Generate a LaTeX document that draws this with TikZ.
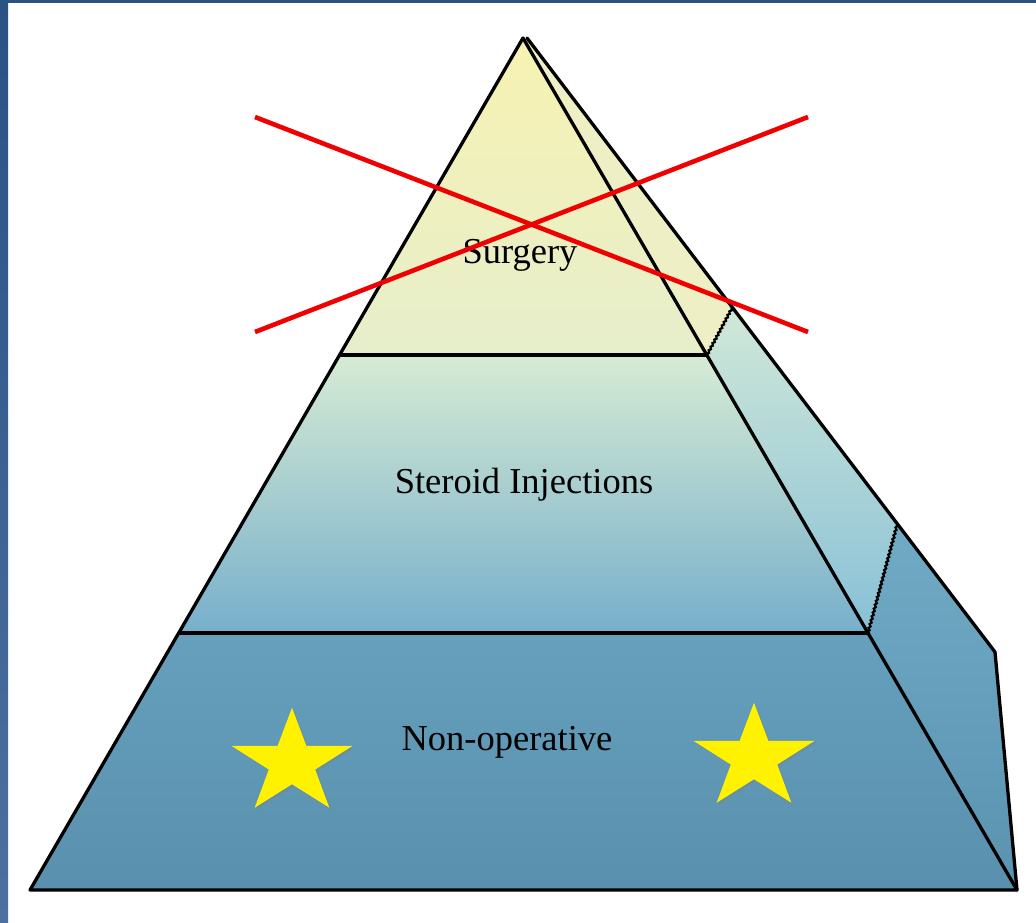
\documentclass[tikz,border=0pt]{standalone}
\usepackage{fontspec}
\setmainfont{Liberation Serif}
\usetikzlibrary{shapes.geometric,decorations.pathmorphing,shadows}

\definecolor{frameblue}{HTML}{2B5285}
\definecolor{framelow}{HTML}{4C70A1}
\definecolor{surgtop}{HTML}{F7F2B2}
\definecolor{surgbot}{HTML}{E6EECB}
\definecolor{sterotop}{HTML}{D6EBD4}
\definecolor{steromid}{HTML}{A0D3E8}
\definecolor{sterobot}{HTML}{77AFCB}
\definecolor{nonoptop}{HTML}{66A0BC}
\definecolor{nonopbot}{HTML}{5990AD}
\definecolor{sidetop}{HTML}{EEEFC4}
\definecolor{sidemidtop}{HTML}{D0E8D8}
\definecolor{sidemidbot}{HTML}{88C0D7}
\definecolor{sidebottop}{HTML}{70AAC5}
\definecolor{sidebotbot}{HTML}{5A93B0}
\definecolor{crossred}{HTML}{F00000}

\begin{document}
\begin{tikzpicture}[x=1pt, y=-1pt,
  every node/.style={font=\fontsize{36.5}{42}\selectfont, inner sep=0pt},
  edge/.style={line width=3.3pt, line join=round, line cap=round},
  seam/.style={line width=2.2pt, decorate, decoration={zigzag, segment length=4pt, amplitude=0.8pt}},
  crossline/.style={crossred, line width=4.6pt},
  starmark/.style={star, star points=5, star point ratio=2.6, fill=yellow, minimum size=127pt,
    transform shape, drop shadow={opacity=0.35, shadow xshift=2pt, shadow yshift=-2pt}}]
\useasboundingbox (0,0) rectangle (1036,923);
\fill[white] (0,0) rectangle (1036,923);

% frame
\fill[frameblue] (0,0) rectangle (1036,3);
\shade[top color=frameblue, bottom color=framelow] (0,0) rectangle (8,923);

% corners of the pyramid
\coordinate (apex) at (523,38);
\coordinate (back) at (527,38);
\coordinate (bl) at (30,890);
\coordinate (br) at (1017,890);
\coordinate (bend) at (995,652);
\coordinate (l1) at (340,355);
\coordinate (r1) at (707,355);
\coordinate (l2) at (179,633);
\coordinate (r2) at (868,633);
\coordinate (s1) at (732,308);
\coordinate (s2) at (897,525);

% front face
\shade[top color=surgtop, bottom color=surgbot] (apex) -- (r1) -- (l1) -- cycle;
\shade[top color=sterotop, middle color=steromid, bottom color=sterobot] (l1) -- (r1) -- (r2) -- (l2) -- cycle;
\shade[top color=nonoptop, bottom color=nonopbot] (l2) -- (r2) -- (br) -- (bl) -- cycle;

% side face
\fill[sidetop] (apex) -- (back) -- (s1) -- (r1) -- cycle;
\shade[top color=sidemidtop, bottom color=sidemidbot] (r1) -- (s1) -- (s2) -- (r2) -- cycle;
\shade[top color=sidebottop, bottom color=sidebotbot] (r2) -- (s2) -- (bend) -- (br) -- cycle;

% outlines
\draw[edge] (apex) -- (bl) -- (br) -- cycle;
\draw[edge] (back) -- (bend) -- (br);
\draw[edge] (l1) -- (r1);
\draw[edge] (l2) -- (r2);
\draw[seam] (r1) -- (s1);
\draw[seam] (r2) -- (s2);

% labels
\node (surgery) at (520,255) {Surgery};
\node (steroid) at (524,485) {Steroid Injections};
\node (nonop) at (507,742) {Non-operative};

% cross
\coordinate (xa) at (255,117);
\coordinate (xb) at (808,332);
\coordinate (xc) at (255,332);
\coordinate (xd) at (808,117);
\draw[crossline] (xa) -- (xb);
\draw[crossline] (xc) -- (xd);

% stars, a little flattened
\begin{scope}[shift={(292,763)}, yscale=0.87]
\node[starmark] (starleft) at (0,0) {};
\end{scope}
\begin{scope}[shift={(754,758)}, yscale=0.87]
\node[starmark] (starright) at (0,0) {};
\end{scope}
\end{tikzpicture}
\end{document}
